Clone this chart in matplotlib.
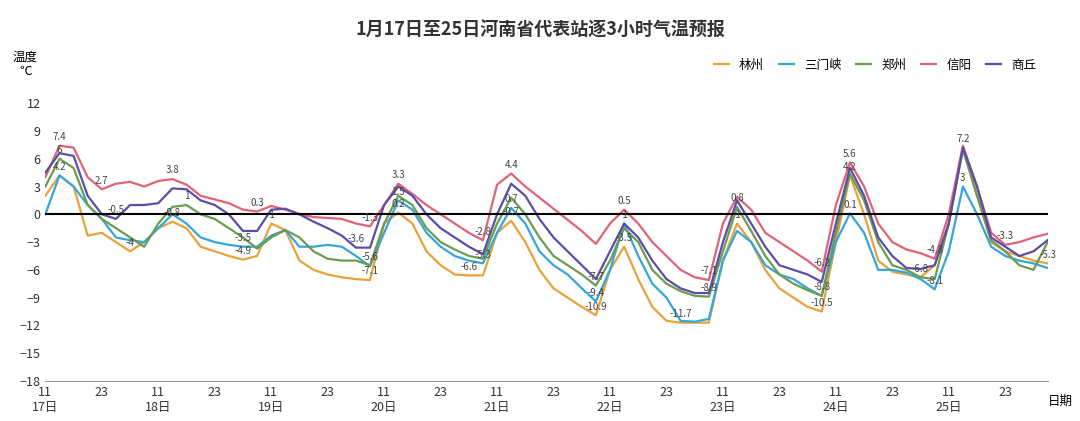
import matplotlib
matplotlib.use("Agg")
import matplotlib.pyplot as plt
import numpy as np

plt.rcParams["font.family"] = ["Noto Sans CJK SC", "DejaVu Sans"]

# 3-hourly forecasts from 17日11时, 8 values per day (11,14,17,20,23,2,5,8)
names = ["林州", "三门峡", "郑州", "信阳", "商丘"]
colors = ["#e8a23b", "#35a6d9", "#6b9c4f", "#e06377", "#5b4ea8"]
linzhou = [2, 4.2, 3, -2.3, -2, -3, -4, -3,
           -1.5, -0.8, -1.5, -3.5, -4, -4.5, -4.9, -4.5,
           -1, -1.7, -5, -6, -6.5, -6.8, -7, -7.1,
           -1, 0.2, -1, -4, -5.5, -6.5, -6.6, -6.6,
           -2, -0.7, -3, -6, -8, -9, -10, -10.9,
           -6, -3.5, -7, -10, -11.5, -11.7, -11.7, -11.7,
           -5, -1.0, -3, -6, -8, -9, -10, -10.5,
           -3, 4.2, 0, -5, -6.2, -6.5, -6.8, -5.5,
           -1, 7.2, 2, -3, -4, -4.5, -5, -5.3]
sanmenxia = [0, 4.2, 3, 1, -0.5, -2.5, -2.8, -3,
             -1.5, 0, -1, -2.5, -3, -3.3, -3.5, -3.5,
             -2.3, -1.7, -3.5, -3.5, -3.3, -3.5, -4.5, -5.6,
             -2, 1.5, 0.5, -2, -3.5, -4.5, -5, -5.3,
             -2, 0.7, -1, -4, -5.5, -6.5, -8, -9.4,
             -6, -1, -4.5, -7.5, -9, -11.5, -11.6, -11.3,
             -5, -1.8, -3, -5.5, -6.5, -7, -8, -8.8,
             -3, 0.1, -2, -6, -6, -6.3, -7, -8.1,
             -4, 3, 0, -3.5, -4.5, -5, -5.3, -5.8]
zhengzhou = [3, 6, 5, 1, -0.5, -1.5, -2.5, -3.5,
             -1, 0.8, 1.0, 0, -0.5, -1.5, -2.5, -3.7,
             -2.5, -1.7, -2.5, -4, -4.8, -5, -5, -5.5,
             -1, 2.0, 1, -1.5, -3, -3.8, -4.5, -4.8,
             -1, 1.8, 0, -2.5, -4.5, -5.5, -6.5, -7.7,
             -5, -1.5, -3, -6, -7.5, -8.3, -8.8, -8.9,
             -4, 0.8, -1.8, -4.5, -6.5, -7.5, -8.2, -8.8,
             -2, 4.4, 1.5, -3, -5.5, -6, -6.8, -7,
             -1, 7.0, 2, -2.8, -4, -5.5, -6.0, -3]
xinyang = [4, 7.4, 7.2, 4, 2.7, 3.3, 3.5, 3,
           3.6, 3.8, 3.2, 2, 1.6, 1.2, 0.5, 0.3,
           0.9, 0.5, 0, -0.3, -0.4, -0.5, -1.0, -1.3,
           1, 3.3, 2.2, 1, 0, -1, -2, -2.8,
           3.2, 4.4, 3, 1.8, 0.6, -0.6, -1.8, -3.2,
           -1, 0.5, -1, -3, -4.5, -6, -6.8, -7.1,
           -1, 1.9, 0.5, -2, -3, -4, -5, -6.2,
           1, 5.6, 3, -1, -3, -3.8, -4.2, -4.8,
           0, 7.4, 3, -2, -3.3, -3, -2.5, -2.1]
shangqiu = [4.5, 6.6, 6.3, 2, 0, -0.5, 1, 1,
            1.2, 2.8, 2.7, 1.5, 1, 0, -1.8, -1.8,
            0.5, 0.6, 0, -0.8, -1.5, -2.3, -3.6, -3.6,
            1, 3.0, 2, 0, -1.5, -2.5, -3.5, -4.3,
            0, 3.3, 2, -0.5, -2.5, -4, -5.5, -7.0,
            -4, -1, -2.5, -5, -7, -8, -8.5, -8.5,
            -3, 1.5, -1, -3.5, -5.5, -6, -6.5, -7.3,
            -1, 5.0, 2, -2.5, -4.5, -5.8, -5.9, -5.5,
            -1, 7.2, 3, -2.5, -3.5, -4.5, -4, -2.8]
series = [linzhou, sanmenxia, zhengzhou, xinyang, shangqiu]
days = ["17日", "18日", "19日", "20日", "21日", "22日", "23日", "24日", "25日"]

fig = plt.figure(figsize=(10.8, 4.21), dpi=100)
ax = fig.add_axes([0.042, 0.095, 0.928, 0.66])
x = np.arange(len(linzhou))
placed = []
for name, col, vals in zip(names, colors, series):
    ax.plot(x, vals, color=col, lw=1.6, label=name)
    v = np.array(vals)
    for d in range(len(days)):
        seg = v[d * 8:(d + 1) * 8]
        for j in (int(np.argmax(seg)), int(np.argmin(seg))):
            i = d * 8 + j
            # skip labels that would sit on top of an earlier one
            if any(abs(i - pi) < 3 and abs(v[i] - pv) < 1.2 for pi, pv in placed):
                continue
            placed.append((i, v[i]))
            ax.text(i, v[i] + 0.4, f"{v[i]:g}", fontsize=7, color="#444",
                    ha="center", va="bottom")

ax.axhline(0, color="black", lw=1.5)
ax.set_ylim(-18, 12)
ax.set_yticks(range(-18, 13, 3))
ax.set_xlim(0, len(linzhou) - 1)
ticks, labels = [], []
for d, day in enumerate(days):
    ticks += [d * 8, d * 8 + 4]
    labels += [f"11\n{day}", "23"]
ax.set_xticks(ticks)
ax.set_xticklabels(labels)
ax.tick_params(labelsize=9, colors="#333", length=0)
for s in ["top", "right", "left"]:
    ax.spines[s].set_visible(False)
ax.spines["bottom"].set_color("#999")
ax.text(-0.02, 1.1, "温度\n℃", transform=ax.transAxes, fontsize=9, ha="center")
ax.text(1.0, -0.05, "日期", transform=ax.transAxes, fontsize=9, ha="left", va="top")
fig.suptitle("1月17日至25日河南省代表站逐3小时气温预报", fontsize=13,
             fontweight="bold", y=0.95, color="#333")
ax.legend(loc="upper right", bbox_to_anchor=(1.0, 1.2), ncol=5, frameon=False,
          fontsize=9, handlelength=1.2, columnspacing=1.2)
fig.savefig("out.png")
